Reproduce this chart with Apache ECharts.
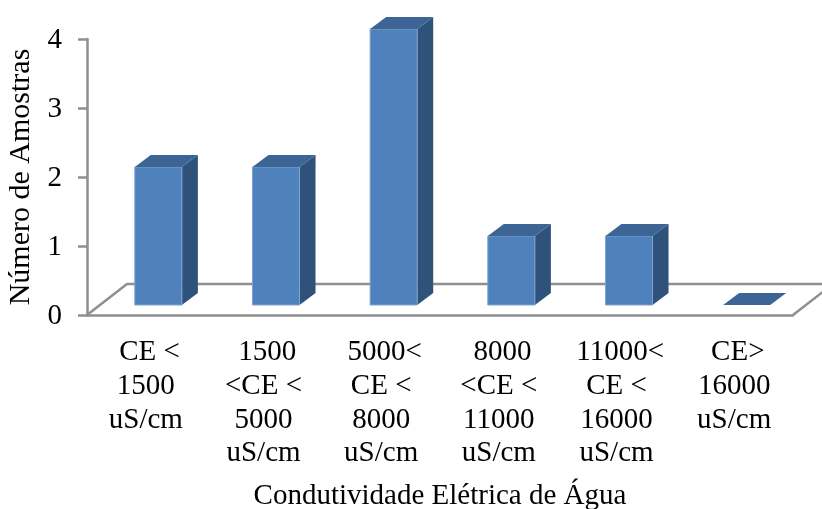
<!DOCTYPE html>
<html>
<head>
<meta charset="utf-8">
<style>html,body{margin:0;padding:0;background:#fff}#main{width:822px;height:509px}</style>
<script src="https://cdn.jsdelivr.net/npm/echarts@6/dist/echarts.min.js"></script>
</head>
<body>
<div id="main"></div>
<script>
// the first line of each label sits a little right of centre in the original
var categories = [
  ' CE <\n1500\nuS/cm',
  ' 1500\n<CE <\n5000\nuS/cm',
  ' 5000<\nCE <\n8000\nuS/cm',
  ' 8000\n<CE <\n11000\nuS/cm',
  ' 11000<\nCE <\n16000\nuS/cm',
  ' CE>\n16000\nuS/cm'
];
var amostras = [2, 2, 4, 1, 1, 0];

var serif = '"Liberation Serif", "Times New Roman", serif';
var axisColor = '#8f8f8f';

var myChart = echarts.init(document.getElementById('main'));

function renderBar(params, api) {
  var idx = api.value(0);
  var val = api.value(1);
  var top = api.coord([idx, val]);
  var base = api.coord([idx, 0]);
  var w = api.size([1, 0])[0] * 0.4;
  // front face sits on the floor, shifted back from the axis
  var x0 = top[0] - w / 2 + 12.5;
  var x1 = x0 + w;
  var yt = top[1] - 10;
  var yb = base[1] - 10;
  var dx = 16, dy = 12;
  var children = [];
  if (val > 0) {
    children.push({
      type: 'polygon',
      shape: { points: [[x1, yt], [x1 + dx, yt - dy], [x1 + dx, yb - dy], [x1, yb]] },
      style: { fill: '#2f527a' }
    });
    children.push({
      type: 'rect',
      shape: { x: x0, y: yt, width: w, height: yb - yt },
      style: { fill: '#4f81bd', stroke: '#7fa3cf', lineWidth: 1 }
    });
  }
  children.push({
    type: 'polygon',
    shape: { points: [[x0, yt], [x0 + dx, yt - dy], [x1 + dx, yt - dy], [x1, yt]] },
    style: { fill: '#3c6494' }
  });
  return { type: 'group', children: children };
}

function renderFloor(params, api) {
  var r = params.coordSys;
  var xl = r.x, xr = r.x + r.width, y = r.y + r.height;
  var ddx = 40, ddy = 31;
  var line = { stroke: axisColor, lineWidth: 2.5, fill: null };
  return {
    type: 'polyline',
    shape: { points: [[xl, y], [xl + ddx, y - ddy], [xr + ddx, y - ddy], [xr, y]] },
    style: line
  };
}

var option = {
  animation: false,
  backgroundColor: '#fff',
  textStyle: { fontFamily: serif },
  grid: { left: 87, top: 39, width: 706, height: 276, outerBoundsMode: 'none' },
  xAxis: {
    type: 'category',
    data: categories,
    name: 'Condutividade Elétrica de Água',
    nameLocation: 'middle',
    nameGap: 167,
    nameTextStyle: { fontFamily: serif, fontSize: 29, color: '#000' },
    axisLine: { lineStyle: { color: axisColor, width: 2.5 } },
    axisTick: { show: false },
    axisLabel: { interval: 0, fontFamily: serif, fontSize: 29, color: '#000', lineHeight: 33.6, margin: 21, verticalAlign: 'top' }
  },
  yAxis: {
    type: 'value',
    min: 0,
    max: 4,
    interval: 1,
    name: 'Número de Amostras',
    nameLocation: 'middle',
    nameGap: 46,
    nameTextStyle: { fontFamily: serif, fontSize: 30, color: '#000' },
    splitLine: { show: false },
    axisLine: { show: true, lineStyle: { color: axisColor, width: 2.5 } },
    axisTick: { show: true, length: 9, lineStyle: { color: axisColor, width: 2.5 } },
    axisLabel: { fontFamily: serif, fontSize: 29, color: '#000', margin: 25, verticalAlign: 'top', padding: [-13, 0, 0, 0] }
  },
  series: [
    { type: 'custom', renderItem: renderFloor, data: [0], clip: false, silent: true, z: 1 },
    {
      type: 'custom',
      renderItem: renderBar,
      clip: false,
      z: 2,
      encode: { x: 0, y: 1 },
      data: amostras.map(function (v, i) { return [i, v]; })
    }
  ]
};

myChart.setOption(option);
</script>
</body>
</html>
